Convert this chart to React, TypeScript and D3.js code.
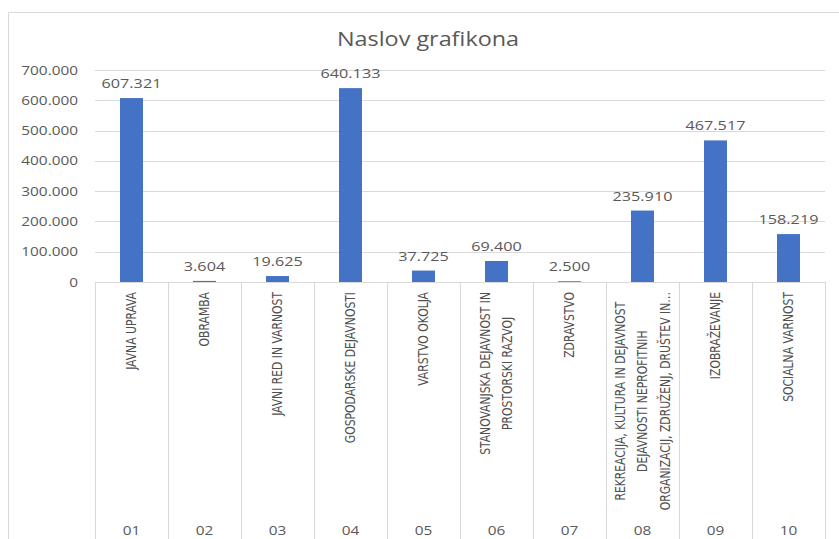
import { useEffect, useRef } from 'react';
import * as d3 from 'd3';

const CODES = ['01', '02', '03', '04', '05', '06', '07', '08', '09', '10'];
const NAMES = [
  ['JAVNA UPRAVA'],
  ['OBRAMBA'],
  ['JAVNI RED IN VARNOST'],
  ['GOSPODARSKE DEJAVNOSTI'],
  ['VARSTVO OKOLJA'],
  ['STANOVANJSKA DEJAVNOST IN', 'PROSTORSKI RAZVOJ'],
  ['ZDRAVSTVO'],
  ['REKREACIJA, KULTURA IN DEJAVNOST', 'DEJAVNOSTI NEPROFITNIH', 'ORGANIZACIJ, ZDRUŽENJ, DRUŠTEV IN…'],
  ['IZOBRAŽEVANJE'],
  ['SOCIALNA VARNOST'],
];
const VALUES = [607321, 3604, 19625, 640133, 37725, 69400, 2500, 235910, 467517, 158219];
const Y_TICKS = [0, 100000, 200000, 300000, 400000, 500000, 600000, 700000];
const TITLE = 'Naslov grafikona';

const W = 839;
const H = 539;
const BAR = '#4472C4';
const GRID = '#d9d9d9';
const TEXT = '#595959';
const FONT = '"Open Sans", sans-serif';
const NARROW = '"DejaVu Sans Condensed", "DejaVu Sans", sans-serif';

const fmt = d3.formatLocale({ decimal: ',', thousands: '.', grouping: [3], currency: ['', ''] }).format(',d');

export default function App() {
  const svgRef = useRef<SVGSVGElement>(null);

  useEffect(() => {
    document.body.style.margin = '0';
    if (!svgRef.current) return;
    const svg = d3.select(svgRef.current);
    svg.selectAll('*').remove();

    const margin = { top: 70, left: 95, right: 14, bottom: 257 };
    const plotBottom = H - margin.bottom;

    const x = d3.scaleBand<string>()
      .domain(CODES)
      .range([margin.left, W - margin.right])
      .paddingInner(0.685)
      .paddingOuter(0.3425);

    const y = d3.scaleLinear()
      .domain([0, 700000])
      .range([plotBottom, margin.top]);

    const step = x.step();

    // chart frame
    svg.append('path')
      .attr('d', `M8.5,${H} V12.5 H${W}`)
      .attr('fill', 'none')
      .attr('stroke', GRID);

    svg.append('text')
      .attr('transform', `translate(428,46) scale(1.2,1)`)
      .attr('text-anchor', 'middle')
      .attr('font-family', FONT)
      .attr('font-size', 19.5)
      .attr('fill', TEXT)
      .text(TITLE);

    // gridlines
    svg.append('g')
      .selectAll('line')
      .data(Y_TICKS.slice(1))
      .enter()
      .append('line')
      .attr('x1', margin.left)
      .attr('x2', W - margin.right)
      .attr('y1', d => Math.round(y(d)) + 0.5)
      .attr('y2', d => Math.round(y(d)) + 0.5)
      .attr('stroke', GRID);

    svg.append('g')
      .selectAll('text')
      .data(Y_TICKS)
      .enter()
      .append('text')
      .attr('transform', d => `translate(78,${y(d) + 4.5}) scale(1.2,1)`)
      .attr('text-anchor', 'end')
      .attr('font-family', FONT)
      .attr('font-size', 12.8)
      .attr('fill', TEXT)
      .text(d => fmt(d));

    // bars
    svg.append('g')
      .selectAll('rect')
      .data(VALUES)
      .enter()
      .append('rect')
      .attr('x', (_, i) => x(CODES[i]) || 0)
      .attr('y', d => y(d))
      .attr('width', x.bandwidth())
      .attr('height', d => plotBottom - y(d))
      .attr('fill', BAR);

    svg.append('g')
      .selectAll('text')
      .data(VALUES)
      .enter()
      .append('text')
      .attr('transform', (d, i) => `translate(${(x(CODES[i]) || 0) + x.bandwidth() / 2},${y(d) - 10}) scale(1.2,1)`)
      .attr('text-anchor', 'middle')
      .attr('font-family', FONT)
      .attr('font-size', 13.5)
      .attr('fill', TEXT)
      .text(d => fmt(d));

    // category axis
    const axis = svg.append('g');
    axis.append('line')
      .attr('x1', margin.left)
      .attr('x2', W - margin.right)
      .attr('y1', plotBottom + 0.5)
      .attr('y2', plotBottom + 0.5)
      .attr('stroke', GRID);

    const bounds = CODES.map(c => (x(c) || 0) - (step - x.bandwidth()) / 2);
    bounds.push(W - margin.right);
    axis.selectAll('line.sep')
      .data(bounds)
      .enter()
      .append('line')
      .attr('class', 'sep')
      .attr('x1', d => Math.round(d) + 0.5)
      .attr('x2', d => Math.round(d) + 0.5)
      .attr('y1', plotBottom)
      .attr('y2', H)
      .attr('stroke', GRID);

    const lineH = 22.5;
    CODES.forEach((c, i) => {
      const cx = (x(c) || 0) + x.bandwidth() / 2;
      const lines = NAMES[i];
      const g = axis.append('g');
      const texts = lines.map((t, j) =>
        g.append('text')
          .attr('transform', `translate(0,${(j - (lines.length - 1) / 2) * lineH + 4.6}) scale(1,1.2)`)
          .attr('text-anchor', 'middle')
          .attr('font-family', NARROW)
          .attr('font-size', 12)
          .attr('fill', '#505050')
          .text(t)
      );
      const maxLen = Math.max(...texts.map(t => (t.node() as SVGTextElement).getComputedTextLength()));
      g.attr('transform', `translate(${cx},${plotBottom + 10 + maxLen / 2}) rotate(-90)`);

      axis.append('text')
        .attr('transform', `translate(${cx},535) scale(1.2,1)`)
        .attr('text-anchor', 'middle')
        .attr('font-family', FONT)
        .attr('font-size', 12.8)
        .attr('fill', TEXT)
        .text(c);
    });
  }, []);

  return <svg ref={svgRef} width={W} height={H} style={{ display: 'block', background: '#ffffff' }} />;
}
